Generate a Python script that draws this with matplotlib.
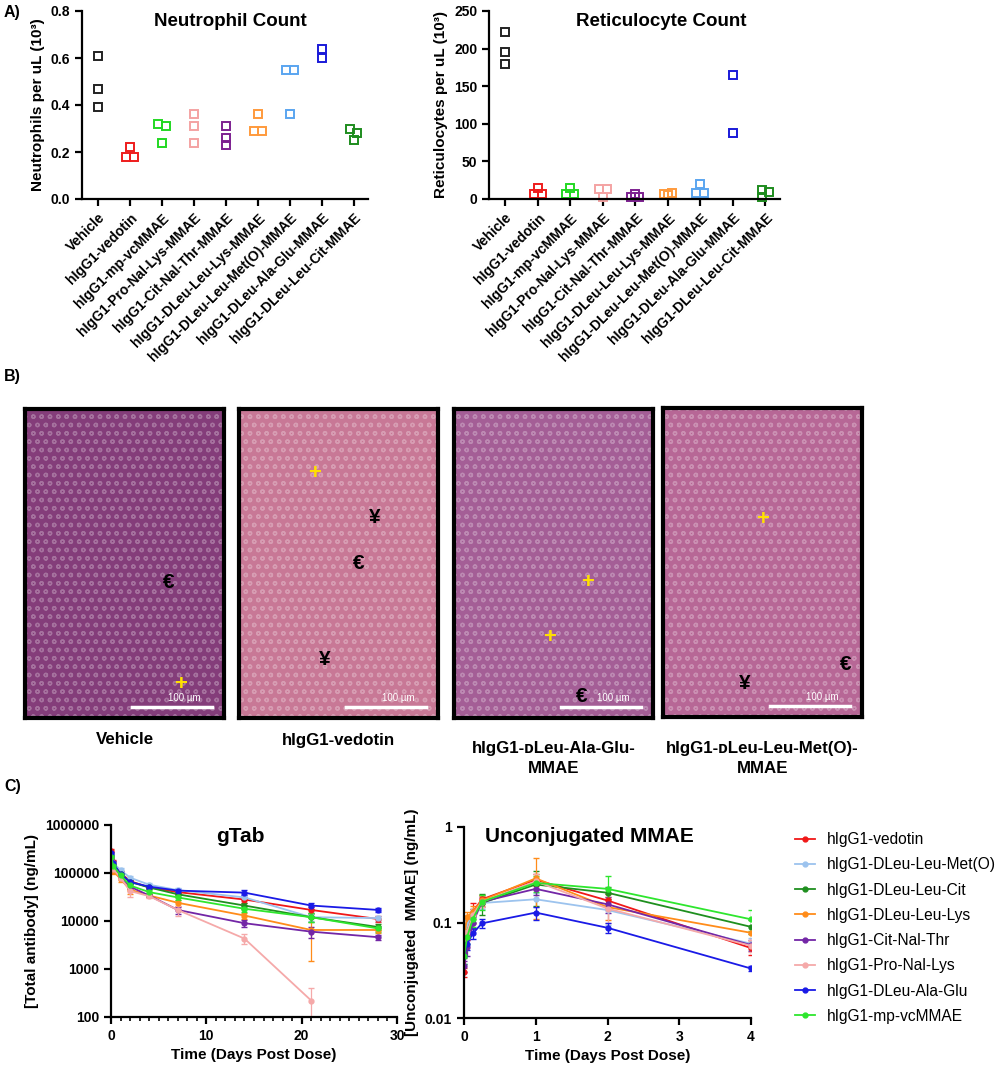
# plot.py - neutrophil / reticulocyte counts, marrow histology, PK curves

import numpy as np
import matplotlib.pyplot as plt
from matplotlib.lines import Line2D
from matplotlib.patches import Rectangle

plt.rcParams["font.family"] = ["Liberation Sans", "DejaVu Sans"]

W, H = 1000, 1070

# ---- panel A data ----
groups = [
    "Vehicle", "hIgG1-vedotin", "hIgG1-mp-vcMMAE", "hIgG1-Pro-Nal-Lys-MMAE",
    "hIgG1-Cit-Nal-Thr-MMAE", "hIgG1-DLeu-Leu-Lys-MMAE", "hIgG1-DLeu-Leu-Met(O)-MMAE",
    "hIgG1-DLeu-Ala-Glu-MMAE", "hIgG1-DLeu-Leu-Cit-MMAE",
]
group_colors = ["#222222", "#ee1c1c", "#22d822", "#f4a3a3", "#7d2090",
                "#ff9a3c", "#5aa5f0", "#1a1ad8", "#1e8c1e"]

neutrophils = [
    [0.61, 0.47, 0.39], [0.22, 0.18, 0.18], [0.32, 0.31, 0.24],
    [0.36, 0.31, 0.24], [0.31, 0.26, 0.23], [0.36, 0.29, 0.29],
    [0.55, 0.55, 0.36], [0.64, 0.60], [0.30, 0.28, 0.25],
]
reticulocytes = [
    [222, 195, 179], [14, 6, 6], [14, 6, 6],
    [13, 13, 3], [7, 2, 2], [8, 6, 5],
    [20, 8, 8], [165, 88], [12, 9, 3],
]

# horizontal spread of overlapping points (category units)
neut_spread = [
    [0, 0, 0], [0, -0.12, 0.12], [-0.12, 0.12, 0], [0, 0, 0], [0, 0, 0],
    [0, -0.12, 0.12], [-0.12, 0.12, 0], [0, 0], [-0.12, 0.12, 0],
]
retic_spread = [
    [0, 0, 0], [0, -0.12, 0.12], [0, -0.12, 0.12], [-0.12, 0.12, 0],
    [0, -0.12, 0.12], [0.12, -0.12, 0], [0, -0.12, 0.12], [0, 0], [-0.1, 0.12, -0.1],
]

# ---- panel C data ----
pk_names = ["hIgG1-vedotin", "hIgG1-DLeu-Leu-Met(O)", "hIgG1-DLeu-Leu-Cit",
            "hIgG1-DLeu-Leu-Lys", "hIgG1-Cit-Nal-Thr", "hIgG1-Pro-Nal-Lys",
            "hIgG1-DLeu-Ala-Glu", "hIgG1-mp-vcMMAE"]
pk_colors = ["#f01818", "#9cc3ee", "#1f8f1f", "#ff8c1a",
             "#7326a6", "#f5a9a9", "#1a1ae6", "#2ee62e"]

tab_days = [0.0035, 0.25, 1, 2, 4, 7, 14, 21, 28]
tab_conc = [
    [290000, 170000, 100000, 68000, 50000, 40000, 28000, 17000, 11000],
    [250000, 160000, 115000, 80000, 57000, 44000, 31000, 12000, 11500],
    [230000, 150000, 95000, 65000, 50000, 36000, 21000, 12000, 7500],
    [140000, 110000, 75000, 45000, 34000, 24000, 13000, 6500, 6500],
    [200000, 130000, 85000, 52000, 34000, 17000, 9000, 6000, 4600],
    [180000, 120000, 80000, 42000, 33000, 17000, 4300, 220, np.nan],
    [260000, 160000, 95000, 65000, 52000, 43000, 39000, 21000, 17000],
    [220000, 140000, 90000, 55000, 40000, 31000, 18000, 12000, 7000],
]
tab_sd = [
    [30000, 15000, 8000, 6000, 4000, 4000, 4000, 3000, 1500],
    [20000, 15000, 10000, 8000, 5000, 4000, 3000, 2000, 1500],
    [20000, 15000, 8000, 6000, 4000, 4000, 3000, 2500, 1000],
    [20000, 15000, 10000, 8000, 3000, 3000, 2000, 5000, 800],
    [20000, 15000, 8000, 6000, 3000, 3000, 1500, 1500, 500],
    [20000, 15000, 10000, 10000, 3000, 4000, 1000, 180, np.nan],
    [20000, 15000, 8000, 6000, 4000, 4000, 5000, 3000, 1500],
    [20000, 15000, 8000, 6000, 4000, 3000, 2500, 2500, 1000],
]

mmae_days = [0.0035, 0.042, 0.125, 0.25, 1, 2, 4]
mmae_conc = [
    [0.030, 0.075, 0.130, 0.175, 0.280, 0.170, 0.054],
    [0.085, 0.095, 0.120, 0.160, 0.175, 0.135, 0.060],
    [0.050, 0.080, 0.120, 0.160, 0.250, 0.205, 0.090],
    [0.070, 0.115, 0.130, 0.170, 0.290, 0.145, 0.078],
    [0.035, 0.055, 0.100, 0.165, 0.225, 0.155, 0.058],
    [0.060, 0.080, 0.120, 0.165, 0.270, 0.140, 0.057],
    [0.045, 0.060, 0.077, 0.098, 0.127, 0.088, 0.033],
    [0.045, 0.070, 0.110, 0.165, 0.260, 0.225, 0.108],
]
mmae_sd = [
    [0.003, 0.010, 0.030, 0.020, 0.040, 0.030, 0.008],
    [0.010, 0.010, 0.020, 0.020, 0.030, 0.040, 0.008],
    [0.008, 0.010, 0.020, 0.040, 0.100, 0.030, 0.015],
    [0.010, 0.015, 0.020, 0.020, 0.180, 0.040, 0.015],
    [0.005, 0.010, 0.015, 0.020, 0.030, 0.030, 0.008],
    [0.010, 0.010, 0.020, 0.020, 0.050, 0.040, 0.008],
    [0.008, 0.008, 0.010, 0.010, 0.020, 0.010, 0.002],
    [0.008, 0.010, 0.020, 0.030, 0.050, 0.085, 0.027],
]

# ---- panel B annotations ----
hist_labels = ["Vehicle", "hIgG1-vedotin", "hIgG1-\u1d05Leu-Ala-Glu-\nMMAE",
               "hIgG1-\u1d05Leu-Leu-Met(O)-\nMMAE"]
hist_tone = ["#843d7a", "#c87896", "#a45e96", "#b76796"]
hist_marks = [
    [("\u20ac", 0.72, 0.44), ("+", 0.78, 0.11)],
    [("+", 0.38, 0.79), ("\u00a5", 0.68, 0.65), ("\u20ac", 0.60, 0.50), ("\u00a5", 0.43, 0.19)],
    [("+", 0.67, 0.44), ("+", 0.48, 0.26), ("\u20ac", 0.64, 0.07)],
    [("+", 0.50, 0.64), ("\u00a5", 0.41, 0.11), ("\u20ac", 0.92, 0.17)],
]


def ax_px(x0, y0, x1, y1):
    return [x0 / W, 1 - y1 / H, (x1 - x0) / W, (y1 - y0) / H]


def style(ax):
    ax.spines[["top", "right"]].set_visible(False)
    for s in ["left", "bottom"]:
        ax.spines[s].set_linewidth(1.6)
    ax.tick_params(direction="out", length=5, width=1.6, labelsize=10)
    for lab in ax.get_yticklabels() + ax.get_xticklabels():
        lab.set_fontweight("bold")


fig = plt.figure(figsize=(W / 100, H / 100), dpi=100)

# ---- A) scatter panels ----
for box, data, spread, ylim, yt, ylab, title, tx in [
    ((82, 11, 368, 199), neutrophils, neut_spread, 0.8,
     [0.0, 0.2, 0.4, 0.6, 0.8], "Neutrophils per uL (10\u00b3)", "Neutrophil Count", 230),
    ((489, 11, 780, 199), reticulocytes, retic_spread, 250,
     [0, 50, 100, 150, 200, 250], "Reticulocytes per uL (10\u00b3)", "Reticulocyte Count", 661),
]:
    ax = fig.add_axes(ax_px(*box))
    for i, vals in enumerate(data):
        ax.plot(np.full(len(vals), i) + np.array(spread[i]), vals, "s", ms=5.2,
                mfc="none", mec=group_colors[i], mew=1.4, clip_on=False)
    ax.set_xlim(-0.5, 8.45)
    ax.set_ylim(0, ylim)
    ax.set_yticks(yt)
    if ylim < 1:
        ax.set_yticklabels([f"{v:.1f}" for v in yt])
    ax.set_xticks(range(len(groups)))
    ax.set_xticklabels(groups, rotation=45, ha="right", rotation_mode="anchor",
                       fontsize=10)
    ax.set_ylabel(ylab, fontsize=11, fontweight="bold", labelpad=4)
    style(ax)
    fig.text(tx / W, 1 - 22 / H, title, ha="center", va="center",
             fontsize=13.5, fontweight="bold")

# ---- B) histology frames ----
hist_boxes = [(25, 409, 224, 718), (239, 409, 438, 718), (454, 409, 653, 718), (663, 408, 862, 717)]
for i, b in enumerate(hist_boxes):
    ax = fig.add_axes(ax_px(*b))
    ax.set_facecolor(hist_tone[i])
    ax.add_patch(Rectangle((0, 0), 1, 1, transform=ax.transAxes, facecolor="none",
                           edgecolor=(1, 1, 1, 0.25), hatch="oo", lw=0))
    ax.set_xticks([])
    ax.set_yticks([])
    for s in ax.spines.values():
        s.set_linewidth(3)
    for sym, fx, fy in hist_marks[i]:
        if sym == "+":
            ax.text(fx, fy, sym, color="#ffe000", fontsize=16, fontweight="bold",
                    ha="center", va="center", transform=ax.transAxes)
        else:
            ax.text(fx, fy, sym, color="black", fontsize=15, fontweight="bold",
                    ha="center", va="center", transform=ax.transAxes)
    ax.plot([0.54, 0.94], [0.035, 0.035], color="white", lw=2.5, transform=ax.transAxes)
    ax.text(0.80, 0.065, "100 \u00b5m", color="white", fontsize=7,
            ha="center", va="center", transform=ax.transAxes)
    cx = (b[0] + b[2]) / 2
    two = "\n" in hist_labels[i]
    fig.text(cx / W, 1 - (741 if two else 740) / H, hist_labels[i], ha="center",
             va="top" if two else "center", fontsize=12.2, fontweight="bold", linespacing=1.45)

# ---- C) PK curves ----
ax1 = fig.add_axes(ax_px(111, 825, 397, 1017))
for i, name in enumerate(pk_names):
    ax1.errorbar(tab_days, tab_conc[i], yerr=tab_sd[i], color=pk_colors[i], marker="o",
                 ms=3.5, lw=1.3, elinewidth=0.9, capsize=2)
ax1.set_yscale("log")
ax1.set_ylim(100, 1e6)
ax1.set_xlim(0, 30)
ax1.set_yticks([100, 1000, 10000, 100000, 1000000])
ax1.set_yticklabels(["100", "1000", "10000", "100000", "1000000"])
ax1.yaxis.set_minor_locator(plt.NullLocator())
ax1.set_xticks([0, 10, 20, 30])
ax1.set_xticks(range(0, 31), minor=True)
ax1.tick_params(which="minor", length=3, width=1.2)
ax1.set_xlabel("Time (Days Post Dose)", fontsize=11, fontweight="bold")
ax1.set_ylabel("[Total antibody] (ng/mL)", fontsize=11, fontweight="bold")
style(ax1)
fig.text(240 / W, 1 - 837 / H, "gTab", ha="center", va="center", fontsize=15, fontweight="bold")

ax2 = fig.add_axes(ax_px(464, 827, 751, 1018))
for i, name in enumerate(pk_names):
    ax2.errorbar(mmae_days, mmae_conc[i], yerr=mmae_sd[i], color=pk_colors[i], marker="o",
                 ms=3.5, lw=1.3, elinewidth=0.9, capsize=2)
ax2.set_yscale("log")
ax2.set_ylim(0.01, 1)
ax2.set_xlim(0, 4)
ax2.set_yticks([0.01, 0.1, 1])
ax2.set_yticklabels(["0.01", "0.1", "1"])
ax2.yaxis.set_minor_locator(plt.NullLocator())
ax2.set_xticks([0, 1, 2, 3, 4])
ax2.set_xlabel("Time (Days Post Dose)", fontsize=11, fontweight="bold")
ax2.set_ylabel("[Unconjugated  MMAE] (ng/mL)", fontsize=11, fontweight="bold")
style(ax2)
fig.text(485 / W, 1 - 837 / H, "Unconjugated MMAE", ha="left", va="center",
         fontsize=15, fontweight="bold")

handles = [Line2D([], [], color=c, marker="o", ms=3.5, lw=1.3) for c in pk_colors]
fig.legend(handles, pk_names, loc="upper left", bbox_to_anchor=(795 / W, 1 - 832 / H),
           frameon=False, fontsize=11.2, handlelength=1.3, handletextpad=0.75,
           labelspacing=0.66, borderpad=0, borderaxespad=0)

# panel letters
for letter, y in [("A)", 12), ("B)", 377), ("C)", 787)]:
    fig.text(4 / W, 1 - y / H, letter, ha="left", va="center", fontsize=11.5, fontweight="bold")

fig.savefig("out.png", dpi=100)
